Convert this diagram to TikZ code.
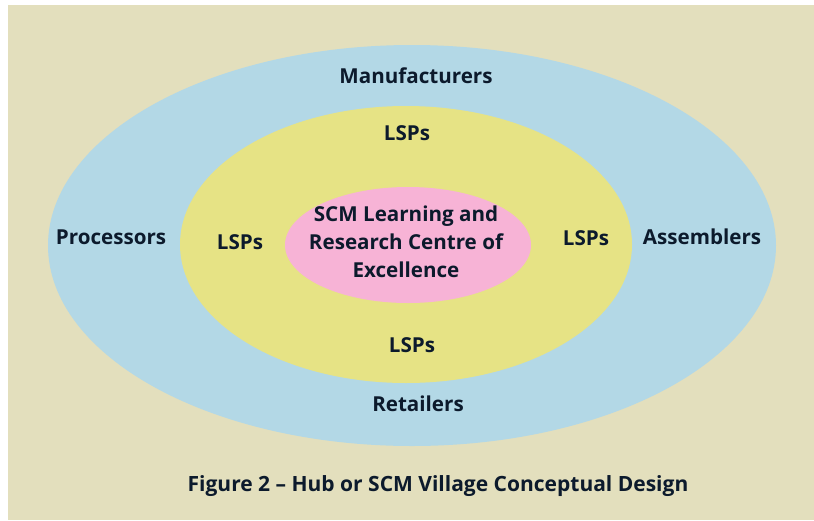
\documentclass[tikz,border=0pt]{standalone}
\usepackage{fontspec}
\setmainfont{Open Sans}
\definecolor{bg}{HTML}{E3DFBD}
\definecolor{outerc}{HTML}{B3D8E6}
\definecolor{midc}{HTML}{E6E385}
\definecolor{innerc}{HTML}{F7B3D6}
\definecolor{txt}{HTML}{0C1A2C}
\tikzset{
  lbl/.style={font=\fontsize{20.6}{28}\selectfont\bfseries, text=txt, inner sep=0pt},
  captionstyle/.style={font=\fontsize{21}{28}\selectfont\bfseries, text=txt, inner sep=0pt},
}
\begin{document}
\begin{tikzpicture}[x=1pt,y=-1pt]
\useasboundingbox (0,0) rectangle (814,520);
\fill[white] (0,0) rectangle (814,520);
\fill[bg] (8,5) rectangle (814,520);
\fill[outerc] (412,245.5) ellipse [x radius=364, y radius=200.5];
\fill[midc] (406,244.5) ellipse [x radius=226, y radius=138.5];
\fill[innerc] (408,245) ellipse [x radius=123, y radius=58];
\node[lbl] (manu) at (416,76) {Manufacturers};
\node[lbl] (lspt) at (407,133) {LSPs};
\node[lbl] (proc) at (111,237) {Processors};
\node[lbl] (lspl) at (240,242) {LSPs};
\node[lbl, align=center] (centre) at (406,242) {SCM Learning and\\Research Centre of\\Excellence};
\node[lbl] (lspr) at (586,238) {LSPs};
\node[lbl] (asse) at (702,237) {Assemblers};
\node[lbl] (lspb) at (412,345) {LSPs};
\node[lbl] (reta) at (418,404) {Retailers};
\node[captionstyle] (caption) at (438,486) {Figure 2 – Hub or SCM Village Conceptual Design};
\end{tikzpicture}
\end{document}
